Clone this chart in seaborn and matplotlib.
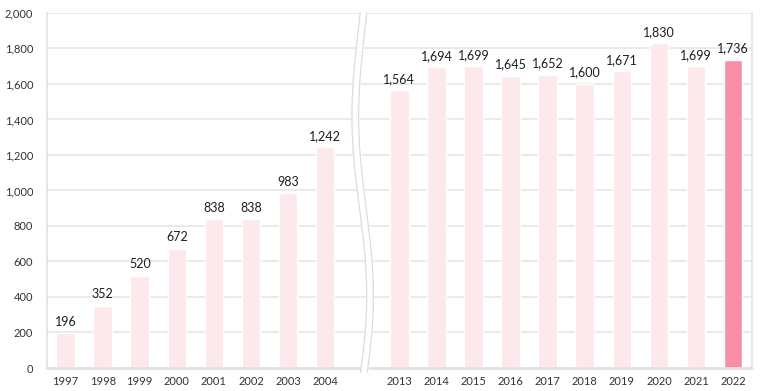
import numpy as np
import pandas as pd
import matplotlib
matplotlib.use("Agg")
import matplotlib.pyplot as plt
import seaborn as sns
from matplotlib.ticker import FuncFormatter, FixedLocator

# Data
years_early = ["1997", "1998", "1999", "2000", "2001", "2002", "2003", "2004"]
values_early = [196, 352, 520, 672, 838, 838, 983, 1242]
years_late = ["2013", "2014", "2015", "2016", "2017", "2018", "2019", "2020", "2021", "2022"]
values_late = [1564, 1694, 1699, 1645, 1652, 1600, 1671, 1830, 1699, 1736]

labels = years_early + [""] + years_late
values = values_early + [np.nan] + values_late
data = pd.DataFrame({"year": labels, "value": values})
data["group"] = ["hi" if y == "2022" else "base" for y in labels]

sns.set_style("white")
plt.rcParams["font.family"] = ["Lato", "DejaVu Sans"]

fig = plt.figure(figsize=(7.67, 3.91), dpi=100)
ax = fig.add_axes([0.0613, 0.0588, 0.9187, 0.9082])

palette = {"base": "#fde8eb", "hi": "#f88ea3"}
sns.barplot(data=data, x="year", y="value", hue="group", palette=palette,
            order=labels, width=0.5, legend=False, ax=ax, dodge=False,
            saturation=1)

# value labels
for i, v in enumerate(values):
    if not np.isnan(v):
        ax.text(i, v + 30, f"{int(v):,}", ha="center", va="bottom",
                fontsize=9, color="#1e1e1e")

ax.set_ylim(0, 2000)
ax.set_xlim(-0.5, len(labels) - 0.5)
ax.set_yticks(range(0, 2001, 200))
ax.yaxis.set_major_formatter(FuncFormatter(lambda v, p: f"{int(v):,}"))
ax.grid(axis="y", color="#e6e6e6", linewidth=1.2, zorder=0)
ax.set_axisbelow(True)
ax.set_xlabel("")
ax.set_ylabel("")

for s in ["left", "right", "bottom"]:
    ax.spines[s].set_color("#e3e3e3")
    ax.spines[s].set_linewidth(1.2)
ax.spines["bottom"].set_linewidth(2)
ax.spines["top"].set_visible(False)

ax.tick_params(axis="y", length=0, labelsize=8, labelcolor="#333333", pad=10)
ax.tick_params(axis="x", which="major", length=0, labelsize=8, labelcolor="#333333", pad=6)
ax.xaxis.set_minor_locator(FixedLocator(np.arange(0.5, len(labels) - 1, 1)))
ax.tick_params(axis="x", which="minor", direction="in", length=3, color="#e0e0e0", width=1)

# axis break (wavy double line)
t = np.linspace(0, 1, 200)
xc = 8 + 0.22 * np.sin(2 * np.pi * t * 1.0 + 0.2) * (1 - 0.2 * t)
trans = ax.get_xaxis_transform()
yy = -0.012 + t * 1.012
x1 = xc - 0.09
x2 = xc + 0.09
ax.fill_betweenx(yy, x1, x2, color="white", transform=trans, zorder=5, clip_on=False)
ax.plot(x1, yy, color="#dcdcdc", lw=0.9, transform=trans, zorder=6, clip_on=False)
ax.plot(x2, yy, color="#dcdcdc", lw=0.9, transform=trans, zorder=6, clip_on=False)

fig.savefig("out.png", dpi=100)
